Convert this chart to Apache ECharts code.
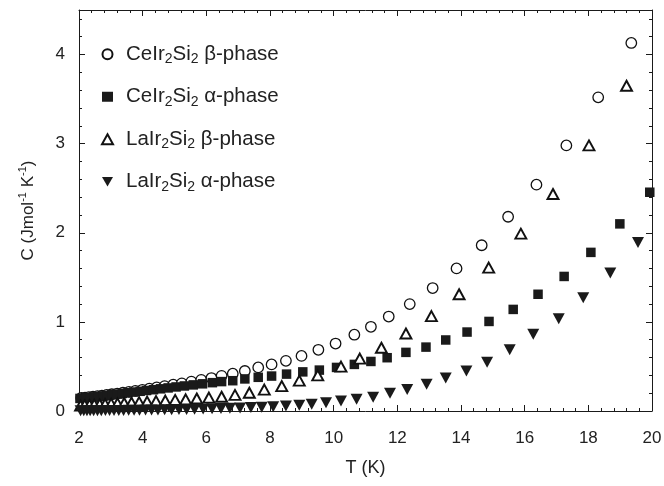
<!DOCTYPE html>
<html>
<head>
<meta charset="utf-8">
<script src="https://cdn.jsdelivr.net/npm/echarts@6/dist/echarts.min.js"></script>
<style>
  html, body { margin: 0; padding: 0; background: #fff; }
  #main { width: 664px; height: 486px; }
</style>
</head>
<body>
<div id="main"></div>
<script>
// CeIr2Si2 beta-phase (open circles)
var ceBetaT = [2.07, 2.19, 2.31, 2.44, 2.58, 2.72, 2.87, 3.03, 3.20, 3.38, 3.57, 3.77, 3.99, 4.21, 4.44, 4.69, 4.96, 5.23, 5.53, 5.84, 6.16, 6.48, 6.83, 7.21, 7.63, 8.05, 8.50, 8.99, 9.52, 10.06, 10.65, 11.17, 11.73, 12.39, 13.11, 13.86, 14.65, 15.48, 16.37, 17.31, 18.31, 19.35];
var ceBetaC = [0.147, 0.151, 0.156, 0.161, 0.167, 0.173, 0.180, 0.188, 0.196, 0.205, 0.215, 0.226, 0.238, 0.250, 0.265, 0.280, 0.295, 0.310, 0.330, 0.350, 0.370, 0.395, 0.419, 0.449, 0.489, 0.523, 0.563, 0.618, 0.687, 0.757, 0.856, 0.945, 1.06, 1.20, 1.38, 1.60, 1.86, 2.18, 2.54, 2.98, 3.52, 4.13];

// CeIr2Si2 alpha-phase (filled squares)
var ceAlphaT = [2.03, 2.13, 2.24, 2.36, 2.48, 2.61, 2.75, 2.89, 3.04, 3.20, 3.36, 3.54, 3.72, 3.92, 4.12, 4.34, 4.56, 4.80, 5.05, 5.31, 5.59, 5.88, 6.19, 6.48, 6.83, 7.21, 7.63, 8.05, 8.52, 9.03, 9.55, 10.09, 10.65, 11.17, 11.68, 12.27, 12.90, 13.52, 14.19, 14.88, 15.64, 16.42, 17.24, 18.08, 18.99, 19.93];
var ceAlphaC = [0.141, 0.145, 0.149, 0.154, 0.159, 0.164, 0.170, 0.176, 0.183, 0.190, 0.197, 0.205, 0.213, 0.221, 0.230, 0.239, 0.249, 0.259, 0.270, 0.281, 0.293, 0.305, 0.318, 0.330, 0.340, 0.360, 0.378, 0.392, 0.414, 0.439, 0.459, 0.489, 0.523, 0.556, 0.598, 0.658, 0.717, 0.797, 0.886, 1.005, 1.14, 1.31, 1.51, 1.78, 2.10, 2.455];

// LaIr2Si2 beta-phase (open triangles)
var laBetaT = [2.05, 2.18, 2.33, 2.48, 2.65, 2.82, 3.01, 3.21, 3.42, 3.65, 3.89, 4.14, 4.42, 4.71, 5.02, 5.35, 5.70, 6.08, 6.48, 6.90, 7.35, 7.82, 8.37, 8.92, 9.50, 10.23, 10.82, 11.50, 12.27, 13.07, 13.94, 14.87, 15.88, 16.89, 18.02, 19.20];
var laBetaC = [0.062, 0.065, 0.068, 0.071, 0.074, 0.078, 0.082, 0.086, 0.090, 0.095, 0.100, 0.105, 0.111, 0.117, 0.124, 0.131, 0.140, 0.150, 0.160, 0.180, 0.205, 0.240, 0.280, 0.340, 0.400, 0.499, 0.588, 0.710, 0.870, 1.065, 1.31, 1.61, 1.99, 2.435, 2.98, 3.65];

// LaIr2Si2 alpha-phase (filled down triangles)
var laAlphaT = [2.05, 2.15, 2.25, 2.35, 2.46, 2.58, 2.70, 2.83, 2.96, 3.10, 3.25, 3.40, 3.56, 3.73, 3.90, 4.09, 4.28, 4.48, 4.69, 4.91, 5.14, 5.38, 5.63, 5.90, 6.18, 6.46, 6.74, 7.06, 7.40, 7.74, 8.10, 8.50, 8.92, 9.31, 9.76, 10.23, 10.72, 11.24, 11.77, 12.31, 12.92, 13.52, 14.17, 14.82, 15.53, 16.27, 17.07, 17.84, 18.69, 19.56];
var laAlphaC = [0.003, 0.003, 0.003, 0.003, 0.004, 0.004, 0.004, 0.005, 0.005, 0.006, 0.006, 0.007, 0.008, 0.008, 0.009, 0.010, 0.011, 0.012, 0.013, 0.014, 0.016, 0.018, 0.020, 0.022, 0.025, 0.028, 0.031, 0.034, 0.038, 0.042, 0.048, 0.056, 0.064, 0.075, 0.092, 0.111, 0.131, 0.155, 0.200, 0.240, 0.300, 0.370, 0.449, 0.548, 0.687, 0.860, 1.035, 1.27, 1.55, 1.89];

var yTicks = [0, 1, 2, 3, 4];
var legendText = {
  'CeIr2Si2 β-phase': 'CeIr{s|2}Si{s|2} β-phase',
  'CeIr2Si2 α-phase': 'CeIr{s|2}Si{s|2} α-phase',
  'LaIr2Si2 β-phase': 'LaIr{s|2}Si{s|2} β-phase',
  'LaIr2Si2 α-phase': 'LaIr{s|2}Si{s|2} α-phase'
};

function pairs(xs, ys) {
  var out = [];
  for (var i = 0; i < xs.length; i++) out.push([xs[i], ys[i]]);
  return out;
}

// minor tick positions on the C axis, every 0.2
var yMinor = [];
for (var k = 1; k < 23; k++) {
  if (k % 5 != 0) yMinor.push(+(k * 0.2).toFixed(1));
}

var font = 'Liberation Sans, Arial, sans-serif';
var ink = '#1a1a1a';
var lineStyle = { color: ink, width: 1 };
var downTri = 'path://M0,0L12,0L6,10.4Z';

function xAxisDef(pos, showLabel) {
  return {
    type: 'value', position: pos, min: 2, max: 20, interval: 2,
    axisLine: { show: true, onZero: false, lineStyle: lineStyle },
    axisTick: { show: true, inside: true, length: 6, lineStyle: lineStyle },
    minorTick: { show: true, splitNumber: 5, length: 3, lineStyle: lineStyle },
    splitLine: { show: false },
    axisLabel: { show: showLabel, fontSize: 17, color: '#222', fontFamily: font, margin: 19 },
    name: showLabel ? 'T (K)' : '',
    nameLocation: 'middle', nameGap: 48,
    nameTextStyle: { fontSize: 18, color: '#222', fontFamily: font }
  };
}

function yAxisDef(pos, minor, showLabel) {
  return {
    type: 'value', position: pos, min: 0, max: 4.5,
    axisLine: { show: !minor, onZero: false, lineStyle: lineStyle },
    axisTick: { show: true, inside: true, length: minor ? 3 : 6, customValues: minor ? yMinor : yTicks, lineStyle: lineStyle },
    splitLine: { show: false },
    axisLabel: { show: showLabel, customValues: yTicks, fontSize: 17, color: '#222', fontFamily: font, margin: 14 },
    name: showLabel ? 'C (Jmol{p|-1} K{p|-1})' : '',
    nameLocation: 'middle', nameGap: 40,
    nameTextStyle: {
      fontSize: 17, color: '#222', fontFamily: font, lineHeight: 22,
      rich: { p: { fontSize: 11, lineHeight: 11, verticalAlign: 'top', color: '#222', fontFamily: font } }
    }
  };
}

var myChart = echarts.init(document.getElementById('main'), null, { renderer: 'canvas' });

var option = {
  animation: false,
  backgroundColor: '#fff',
  grid: { left: 79, right: 12, top: 10, bottom: 75, containLabel: false, outerBoundsMode: 'none' },
  legend: {
    orient: 'vertical', left: 96, top: 37, itemGap: 18,
    itemWidth: 11, itemHeight: 10,
    formatter: function (name) { return legendText[name]; },
    textStyle: {
      fontSize: 20.5, color: '#222', fontFamily: font, lineHeight: 24.5, padding: [0, 0, 0, 8],
      rich: { s: { fontSize: 14, lineHeight: 14, verticalAlign: 'bottom', color: '#222', fontFamily: font } }
    }
  },
  xAxis: [xAxisDef('bottom', true), xAxisDef('top', false)],
  yAxis: [
    yAxisDef('left', false, true),
    yAxisDef('left', true, false),
    yAxisDef('right', false, false),
    yAxisDef('right', true, false)
  ],
  series: [
    {
      name: 'CeIr2Si2 β-phase', type: 'scatter', symbol: 'circle', symbolSize: 10.5,
      itemStyle: { color: '#fff', borderColor: '#111', borderWidth: 1.3, opacity: 1 },
      data: pairs(ceBetaT, ceBetaC)
    },
    {
      name: 'CeIr2Si2 α-phase', type: 'scatter', symbol: 'rect', symbolSize: 9.5,
      itemStyle: { color: '#1a1a1a', opacity: 1 },
      data: pairs(ceAlphaT, ceAlphaC)
    },
    {
      name: 'LaIr2Si2 β-phase', type: 'scatter', symbol: 'triangle', symbolSize: [11, 10],
      itemStyle: { color: '#fff', borderColor: '#111', borderWidth: 1.9, opacity: 1 },
      data: pairs(laBetaT, laBetaC)
    },
    {
      name: 'LaIr2Si2 α-phase', type: 'scatter', symbol: downTri, symbolSize: [12, 11],
      itemStyle: { color: '#1a1a1a', opacity: 1 },
      data: pairs(laAlphaT, laAlphaC)
    }
  ]
};

myChart.setOption(option);
</script>
</body>
</html>
